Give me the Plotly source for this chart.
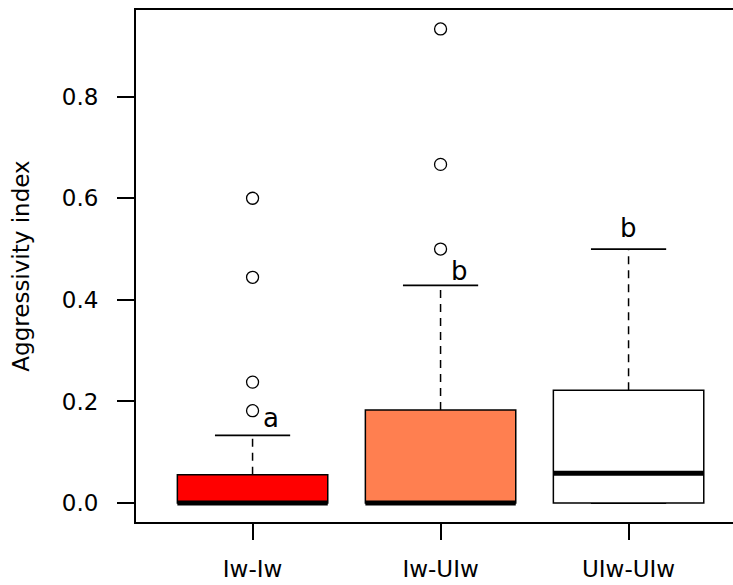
import plotly.graph_objects as go

# ---- data ----
groups = ["Iw-Iw", "Iw-UIw", "UIw-UIw"]
positions = [1, 2, 3]
q1 = [0.0, 0.0, 0.0]
medians = [0.0, 0.0, 0.0588]
q3 = [0.0556, 0.1833, 0.2222]
lower_whisker = [0.0, 0.0, 0.0]
upper_whisker = [0.1333, 0.4286, 0.5]
outliers_g1 = [0.1818, 0.2381, 0.4444, 0.6]
outliers_g2 = [0.5, 0.6667, 0.9333]
outliers_g3 = []
sig_letters = ["a", "b", "b"]
sig_letter_x = [1.1, 2.1, 3.0]
sig_letter_y = [0.168, 0.456, 0.541]
y_ticks = [0.0, 0.2, 0.4, 0.6, 0.8]

# ---- styles ----
fills = ["#FF0000", "#FF7F50", "#FFFFFF"]
FONT = "DejaVu Sans, Arial, sans-serif"
BOX_HALF = 0.4
CAP_HALF = 0.2

fig = go.Figure()
shapes = []
for i, x in enumerate(positions):
    # whiskers (dashed)
    shapes.append(dict(type="line", xref="x", yref="y", x0=x, x1=x, y0=q3[i], y1=upper_whisker[i],
                       line=dict(color="black", width=1.5, dash="8px,6px")))
    shapes.append(dict(type="line", xref="x", yref="y", x0=x, x1=x, y0=lower_whisker[i], y1=q1[i],
                       line=dict(color="black", width=1.5, dash="8px,6px")))
    # caps
    shapes.append(dict(type="line", xref="x", yref="y", x0=x - CAP_HALF, x1=x + CAP_HALF,
                       y0=upper_whisker[i], y1=upper_whisker[i], line=dict(color="black", width=1.8)))
    shapes.append(dict(type="line", xref="x", yref="y", x0=x - CAP_HALF, x1=x + CAP_HALF,
                       y0=lower_whisker[i], y1=lower_whisker[i], line=dict(color="black", width=1.8)))
    # box
    shapes.append(dict(type="rect", xref="x", yref="y", x0=x - BOX_HALF, x1=x + BOX_HALF,
                       y0=q1[i], y1=q3[i], fillcolor=fills[i], line=dict(color="black", width=1.5)))
    # median
    shapes.append(dict(type="line", xref="x", yref="y", x0=x - BOX_HALF, x1=x + BOX_HALF,
                       y0=medians[i], y1=medians[i], line=dict(color="black", width=5)))

all_out = [outliers_g1, outliers_g2, outliers_g3]
for i, outs in enumerate(all_out):
    if outs:
        fig.add_trace(go.Scatter(x=[positions[i]] * len(outs), y=outs, mode="markers",
                                 marker=dict(symbol="circle-open", size=12, color="black",
                                             line=dict(width=1.3)),
                                 showlegend=False, hoverinfo="y"))

annotations = []
for lx, ly, t in zip(sig_letter_x, sig_letter_y, sig_letters):
    annotations.append(dict(x=lx, y=ly, xref="x", yref="y", text=t, showarrow=False,
                            font=dict(family=FONT, size=26, color="black"),
                            xanchor="center", yanchor="middle"))

fig.update_layout(
    width=733, height=585,
    margin=dict(l=136, r=0, t=10, b=63),
    paper_bgcolor="white", plot_bgcolor="white",
    shapes=shapes, annotations=annotations,
    showlegend=False,
    font=dict(family=FONT, size=23, color="black"),
    xaxis=dict(range=[0.38, 3.5555], tickmode="array", tickvals=positions, ticktext=groups,
               ticks="outside", ticklen=16, tickwidth=1.5, tickcolor="black",
               showline=True, linecolor="black", linewidth=2, mirror=True,
               showgrid=False, zeroline=False, ticklabelstandoff=9,
               tickfont=dict(family=FONT, size=23)),
    yaxis=dict(range=[-0.0373, 0.9706], tickmode="array", tickvals=y_ticks,
               ticktext=[f"{v:.1f}" for v in y_ticks],
               ticks="outside", ticklen=17, tickwidth=1.5, tickcolor="black",
               showline=True, linecolor="black", linewidth=2, mirror=False,
               showgrid=False, zeroline=False, ticklabelstandoff=14,
               tickfont=dict(family=FONT, size=23),
               title=dict(text="Aggressivity index", standoff=26,
                          font=dict(family=FONT, size=23))),
)

fig.write_html("out.html")
